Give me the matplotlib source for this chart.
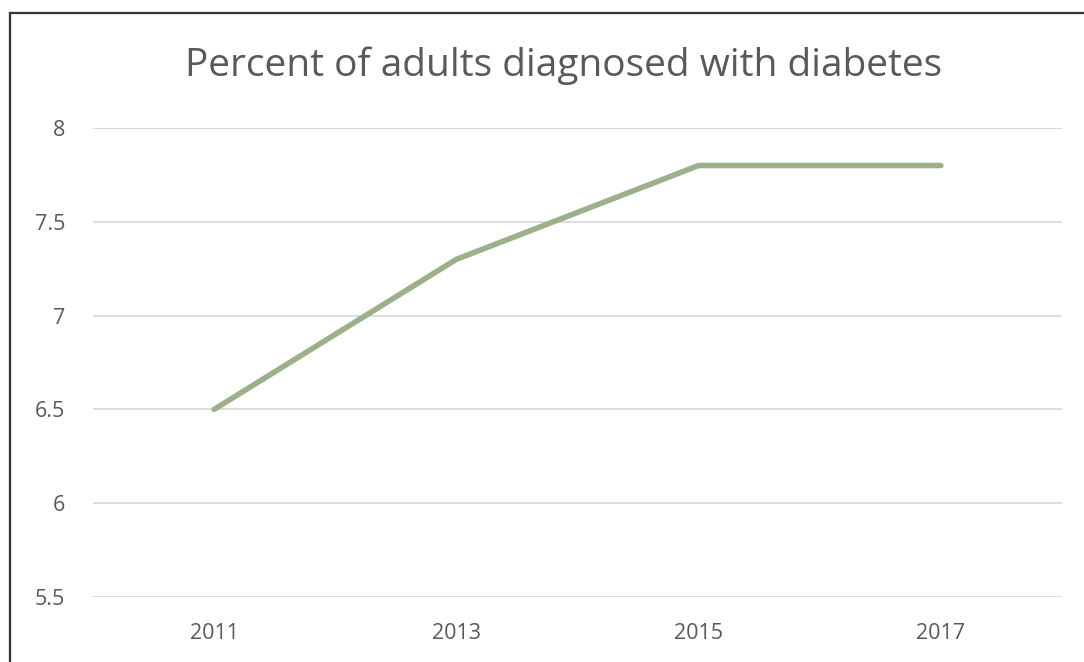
import matplotlib
matplotlib.use("Agg")
import matplotlib.pyplot as plt
from matplotlib.lines import Line2D

years = ["2011", "2013", "2015", "2017"]
values = [6.5, 7.3, 7.8, 7.8]
yticks = [5.5, 6, 6.5, 7, 7.5, 8]
ytick_labels = ["5.5", "6", "6.5", "7", "7.5", "8"]
title = "Percent of adults diagnosed with diabetes"

plt.rcParams['font.family'] = ['Open Sans', 'DejaVu Sans']
W, H = 1084, 662
fig = plt.figure(figsize=(W / 100, H / 100), dpi=100)
fig.patch.set_facecolor("white")

ax = fig.add_axes([93 / W, 1 - 597 / H, (1062 - 93) / W, (597 - 128) / H])
x = list(range(len(years)))
ax.plot(x, values, color="#9CB08A", lw=4.0, solid_capstyle="round", solid_joinstyle="round", zorder=3)
ax.set_xlim(-0.5, len(years) - 0.5)
ax.set_ylim(5.5, 8)
ax.set_yticks(yticks)
ax.set_yticklabels(ytick_labels)
ax.set_xticks(x)
ax.set_xticklabels(years)
ax.grid(axis="y", color="#D9D9D9", lw=1.3, zorder=0)
ax.set_axisbelow(True)
for s in ax.spines.values():
    s.set_visible(False)
ax.tick_params(axis="both", length=0, labelsize=15.5, colors="#595959")
ax.tick_params(axis="y", pad=20)
ax.tick_params(axis="x", pad=19)

fig.text(0.5 * (183 + 945) / W, 1 - 66 / H, title, ha="center", va="center",
         fontsize=28, color="#595959")

# outer border (left and top)
fig.add_artist(Line2D([10 / W, 10 / W], [0, 1 - 13 / H], color="#333333", lw=1.6, transform=fig.transFigure))
fig.add_artist(Line2D([10 / W, 1], [1 - 13 / H, 1 - 13 / H], color="#333333", lw=1.6, transform=fig.transFigure))

fig.savefig("out.png", dpi=100)
